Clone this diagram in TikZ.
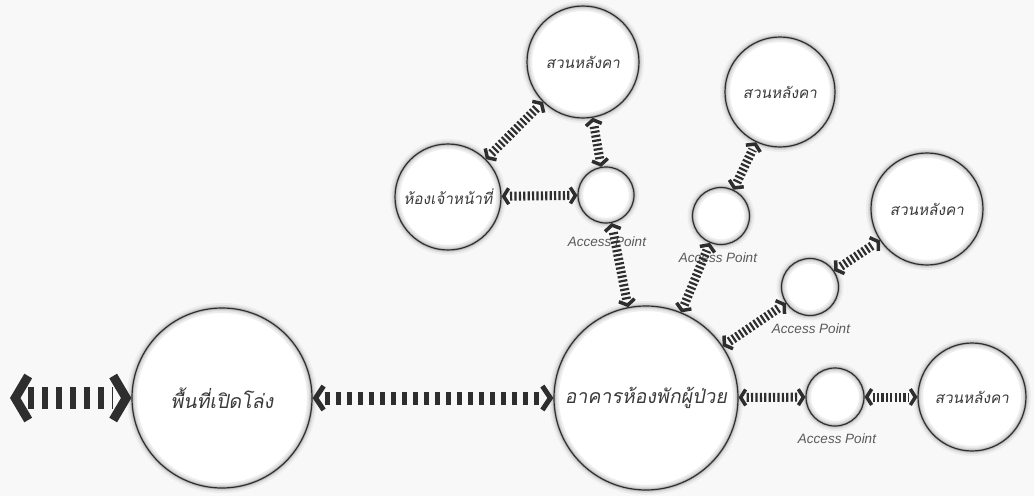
\documentclass[tikz,border=0pt]{standalone}
\usepackage{fontspec}
\setsansfont{Liberation Sans}
\newfontfamily\thaifont[Script=Thai,FakeSlant=0.18]{Loma}
\usetikzlibrary{arrows.meta}
\definecolor{ink}{HTML}{2E2E2E}
\definecolor{bg}{HTML}{F8F8F8}
\definecolor{txt}{HTML}{3A3A3A}
\definecolor{aptxt}{HTML}{5A5A5A}
\tikzset{
  place/.style={circle, draw=ink, line width=1.2pt, inner sep=0pt, text=txt,
    preaction={fill=white},
    preaction={draw=black!7, line width=10pt},
    preaction={draw=black!14, line width=6pt},
    preaction={draw=black!26, line width=3pt}},
  bigplace/.style={place, minimum size=#1, font=\fontsize{19.5}{23}\selectfont\thaifont},
  midplace/.style={place, minimum size=#1, font=\fontsize{15.3}{18}\selectfont\thaifont},
  apnode/.style={place, minimum size=#1},
  aplabel/.style={font=\fontsize{13.5}{15}\selectfont\sffamily\itshape, text=aptxt, inner sep=0pt},
  bigtips/.style={draw=bg, line width=0.1pt, >={Straight Barb[length=13pt,width=44pt,line width=9pt,color=ink]}, <->},
  bigbars/.style={draw=ink, line width=22pt, dash pattern=on 6pt off 8pt, shorten <=18pt, shorten >=18pt},
  midtips/.style={draw=bg, line width=0.1pt, >={Straight Barb[length=8pt,width=24pt,line width=5pt,color=ink]}, <->},
  midbars/.style={draw=ink, line width=13pt, dash pattern=on 5pt off 6pt, shorten <=12pt, shorten >=12pt},
  smalltips/.style={draw=bg, line width=0.1pt, >={Straight Barb[length=5pt,width=16pt,line width=3.5pt,color=ink]}, <->},
  smallbars/.style={draw=ink, line width=9pt, dash pattern=on 2.2pt off 2.2pt, shorten <=8pt, shorten >=8pt},
}
\newcommand\linkab[3]{\draw[#1tips] (#2) -- (#3);\draw[#1bars] (#2) -- (#3);}
\begin{document}
\begin{tikzpicture}[x=1pt,y=-1pt]
\fill[bg] (0,0) rectangle (1034,496);
\useasboundingbox (0,0) rectangle (1034,496);

\node[bigplace=180pt] (open) at (222,398) {พื้นที่เปิดโล่ง};
\node[bigplace=184pt] (ward) at (646,398) {อาคารห้องพักผู้ป่วย};
\node[midplace=108pt] (g4) at (972,397) {สวนหลังคา};
\node[midplace=112pt] (g3) at (927,209) {สวนหลังคา};
\node[midplace=110pt] (g2) at (780,92) {สวนหลังคา};
\node[midplace=112pt] (g1) at (583,62) {สวนหลังคา};
\node[midplace=106pt] (staff) at (448,197) {ห้องเจ้าหน้าที่};
\node[apnode=58pt] (ap4) at (835,397) {};
\node[apnode=57pt] (ap3) at (810,287) {};
\node[apnode=57pt] (ap2) at (721,216) {};
\node[apnode=56pt] (ap1) at (606,195) {};
\node[aplabel] (ap4l) at (837,439) {Access Point};
\node[aplabel] (ap3l) at (811,329) {Access Point};
\node[aplabel] (ap2l) at (718,258) {Access Point};
\node[aplabel] (ap1l) at (607,242) {Access Point};
\coordinate (left) at (10,398);

\linkab{big}{left}{open}
\linkab{mid}{open}{ward}
\linkab{small}{ward}{ap4}
\linkab{small}{ap4}{g4}
\linkab{small}{ward}{ap3}
\linkab{small}{ap3}{g3}
\linkab{small}{ward}{ap2}
\linkab{small}{ap2}{g2}
\linkab{small}{ward}{ap1}
\linkab{small}{ap1}{g1}
\linkab{small}{ap1}{staff}
\linkab{small}{staff}{g1}
\end{tikzpicture}
\end{document}
